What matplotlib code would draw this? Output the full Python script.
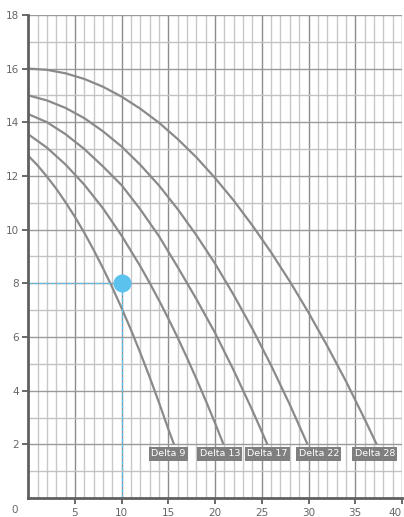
import matplotlib
matplotlib.use("Agg")
import matplotlib.pyplot as plt

# Pump curves: flow (x) vs head (y)
delta9_x = [0, 1, 2, 3, 4, 5, 6, 7, 8, 9, 10, 11, 12, 13, 14, 15, 15.6]
delta9_y = [12.75, 12.39, 11.97, 11.52, 11.01, 10.47, 9.88, 9.24, 8.56, 7.84, 7.07,
            6.26, 5.40, 4.50, 3.55, 2.56, 2.0]

delta13_x = [0, 2, 4, 6, 8, 10, 12, 13, 14, 15, 16, 17, 18, 19, 20, 20.9]
delta13_y = [13.55, 13.05, 12.42, 11.67, 10.79, 9.77, 8.63, 8.01, 7.36, 6.68, 5.97,
             5.22, 4.44, 3.63, 2.79, 2.0]

delta17_x = [0, 2, 4, 6, 8, 10, 12, 14, 16, 18, 20, 22, 24, 25.6]
delta17_y = [14.3, 14.0, 13.55, 13.0, 12.35, 11.65, 10.75, 9.75, 8.6, 7.41, 6.15, 4.75,
             3.26, 2.0]

delta22_x = [0, 2, 4, 6, 8, 10, 12, 14, 16, 18, 20, 22, 24, 26, 28, 29.9]
delta22_y = [15.0, 14.81, 14.53, 14.15, 13.66, 13.09, 12.41, 11.64, 10.76, 9.79, 8.73,
             7.56, 6.30, 4.94, 3.48, 2.0]

delta28_x = [0, 2, 4, 6, 8, 10, 12, 14, 16, 18, 20, 22, 24, 26, 28, 30, 32, 34, 36, 37.3]
delta28_y = [16.0, 15.95, 15.82, 15.61, 15.32, 14.95, 14.50, 13.98, 13.37, 12.69, 11.92,
             11.08, 10.15, 9.15, 8.07, 6.91, 5.67, 4.36, 2.95, 2.0]

curve_names = ["Delta 9", "Delta 13", "Delta 17", "Delta 22", "Delta 28"]
curves_x = [delta9_x, delta13_x, delta17_x, delta22_x, delta28_x]
curves_y = [delta9_y, delta13_y, delta17_y, delta22_y, delta28_y]

# Operating point
duty_x = 10
duty_y = 8

x_ticks = [5, 10, 15, 20, 25, 30, 35, 40]
y_ticks = [2, 4, 6, 8, 10, 12, 14, 16, 18]

W, H = 404, 517
fig = plt.figure(figsize=(W / 100, H / 100), dpi=100)
ax = fig.add_axes([28.3 / W, 1 - 498.1 / H, (401.9 - 28.3) / W, (498.1 - 14.8) / H])
ax.set_xlim(0, 40)
ax.set_ylim(0, 18)

# grid
for v in range(1, 41):
    major = v % 5 == 0
    ax.axvline(v, color="#8c8c8c" if major else "#c8c8c8", lw=1.0, zorder=1)
for h in range(1, 19):
    major = h % 2 == 0
    ax.axhline(h, color="#9a9a9a" if major else "#c2c2c2", lw=1.0, zorder=1)

for s in ["top", "right"]:
    ax.spines[s].set_visible(False)
for s in ["left", "bottom"]:
    ax.spines[s].set_color("#606060")
    ax.spines[s].set_linewidth(2.0)
    ax.spines[s].set_zorder(5)

ax.set_xticks(x_ticks)
ax.set_yticks(y_ticks)
ax.tick_params(axis="both", length=4, width=1.2, color="#505050",
               labelsize=7.5, labelcolor="#666666", pad=3)
# keep the last x label inside the figure edge
ax.get_xticklabels()[-1].set_horizontalalignment("right")
ax.get_xticklabels()[-1].set_x(40.4)
ax.text(-1.42, -0.44, "0", fontsize=7.5, color="#666666", ha="center", va="center",
        clip_on=False)

# curves
for cx, cy in zip(curves_x, curves_y):
    ax.plot(cx, cy, color="#8a8a8a", lw=1.6, zorder=3, solid_capstyle="butt",
            solid_joinstyle="round")

# curve labels
label_shift = [-0.6, -0.4, 0.0, 1.2, -0.2]
for name, cx, cy, dx in zip(curve_names, curves_x, curves_y, label_shift):
    ax.text(cx[-1] + dx, cy[-1] - 0.35, name, fontsize=6.8, color="white",
            ha="center", va="center", zorder=6,
            bbox=dict(boxstyle="square,pad=0.25", fc="#7f7f7f", ec="none"))

# operating point with guide lines
ax.plot([0, duty_x], [duty_y, duty_y], color="#5bc2ee", lw=0.9, ls=(0, (3, 1.5)), zorder=4)
ax.plot([duty_x, duty_x], [0, duty_y], color="#5bc2ee", lw=0.9, ls=(0, (3, 1.5)), zorder=4)
ax.plot([duty_x], [duty_y], "o", color="#5bc2ee", ms=13, mec="none", zorder=7)

fig.savefig("out.png", dpi=100)
